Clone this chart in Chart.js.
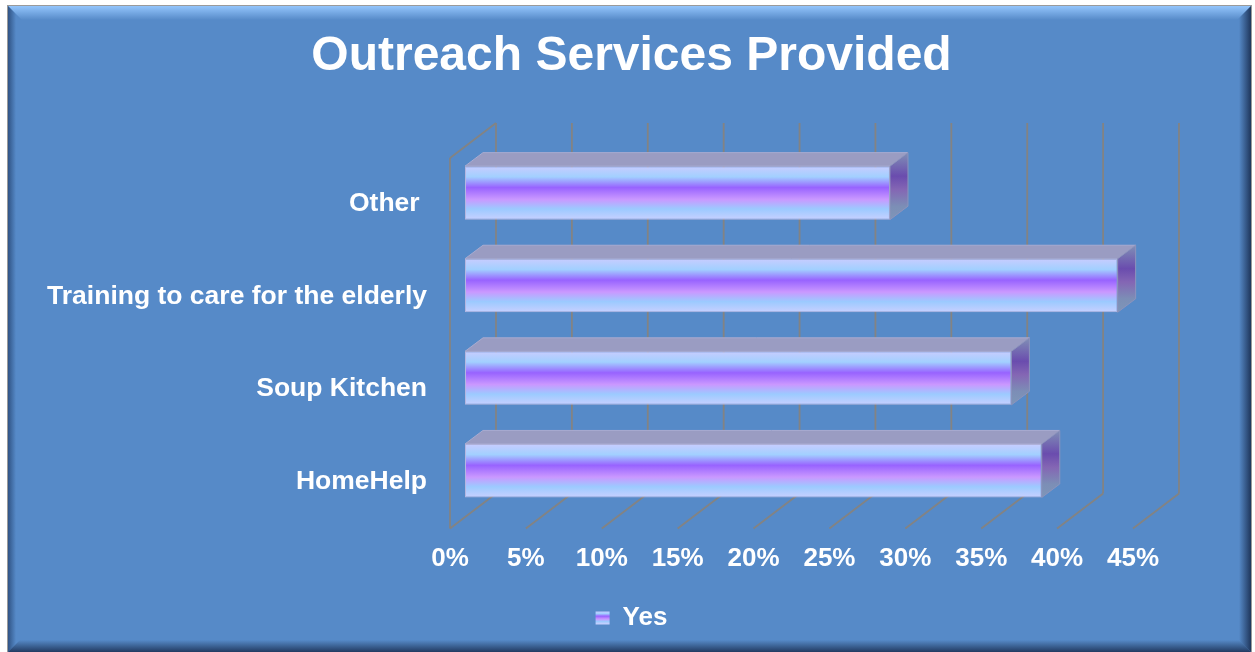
<!DOCTYPE html>
<html>
<head>
<meta charset="utf-8">
<title>Outreach Services Provided</title>
<script src="https://cdn.jsdelivr.net/npm/chart.js@4"></script>
<style>
  html, body { margin: 0; padding: 0; background: #ffffff; }
  #wrap { position: relative; width: 1255px; height: 652px; }
</style>
</head>
<body>
<div id="wrap"><canvas id="chart"></canvas></div>
<script>
// data
const categories = ['Other ', 'Training to care for the elderly', 'Soup Kitchen', 'HomeHelp'];
const yesValues = [28, 43, 36, 38];
const seriesName = 'Yes';
const tickLabels = ['0%', '5%', '10%', '15%', '20%', '25%', '30%', '35%', '40%', '45%'];
const tickStep = 5;

// 3d look
const DEPTH_X = 46, DEPTH_Y = 35;   // full depth of the plot box
const FRONT = 0.326;                // where the bar fronts sit inside that depth
const BAR_DX = 18, BAR_DY = 13.5;   // depth of each bar
const BAR_PCT = 0.578;
const FONT = "'Liberation Sans', Arial, sans-serif";

function frontGradient(ctx, y0, y1) {
  const g = ctx.createLinearGradient(0, y0, 0, y1);
  g.addColorStop(0, '#c8ccff');
  g.addColorStop(0.2, '#a2d0ff');
  g.addColorStop(0.4, '#9863ff');
  g.addColorStop(0.62, '#ca98ff');
  g.addColorStop(0.8, '#9ccaff');
  g.addColorStop(1, '#c8d0ff');
  return g;
}

function line(ctx, x1, y1, x2, y2) {
  ctx.beginPath();
  ctx.moveTo(x1, y1);
  ctx.lineTo(x2, y2);
  ctx.stroke();
}

const frame3d = {
  id: 'frame3d',
  beforeDraw(chart) {
    const ctx = chart.ctx;
    const L = 8, T = 6, R = 1251, B = 652;
    ctx.save();
    ctx.fillStyle = '#9a9a9a';
    ctx.fillRect(L - 1, T - 1, R - L + 2, B - T + 1);
    ctx.fillStyle = '#568ac8';
    ctx.fillRect(L, T, R - L, B - T);
    // bevel edges
    let g = ctx.createLinearGradient(0, T, 0, T + 14);
    g.addColorStop(0, 'rgba(150,200,255,0.95)');
    g.addColorStop(1, 'rgba(150,200,255,0)');
    ctx.fillStyle = g;
    ctx.beginPath();
    ctx.moveTo(L, T); ctx.lineTo(R, T); ctx.lineTo(R - 14, T + 14); ctx.lineTo(L + 14, T + 14);
    ctx.fill();
    g = ctx.createLinearGradient(L, 0, L + 8, 0);
    g.addColorStop(0, 'rgba(35,65,110,0.75)');
    g.addColorStop(1, 'rgba(35,65,110,0)');
    ctx.fillStyle = g;
    ctx.beginPath();
    ctx.moveTo(L, T); ctx.lineTo(L + 8, T + 8); ctx.lineTo(L + 8, B - 8); ctx.lineTo(L, B);
    ctx.fill();
    g = ctx.createLinearGradient(R, 0, R - 12, 0);
    g.addColorStop(0, 'rgba(25,45,80,0.9)');
    g.addColorStop(1, 'rgba(25,45,80,0)');
    ctx.fillStyle = g;
    ctx.beginPath();
    ctx.moveTo(R, T); ctx.lineTo(R - 12, T + 12); ctx.lineTo(R - 12, B - 12); ctx.lineTo(R, B);
    ctx.fill();
    g = ctx.createLinearGradient(0, B, 0, B - 12);
    g.addColorStop(0, 'rgba(25,45,80,0.85)');
    g.addColorStop(1, 'rgba(25,45,80,0)');
    ctx.fillStyle = g;
    ctx.beginPath();
    ctx.moveTo(L, B); ctx.lineTo(L + 12, B - 12); ctx.lineTo(R - 12, B - 12); ctx.lineTo(R, B);
    ctx.fill();
    ctx.restore();
  },
  beforeDatasetsDraw(chart) {
    const ctx = chart.ctx, xs = chart.scales.x, area = chart.chartArea;
    const fx = -DEPTH_X * FRONT, fy = DEPTH_Y * FRONT;
    const bx = DEPTH_X * (1 - FRONT), by = -DEPTH_Y * (1 - FRONT);
    ctx.save();
    ctx.strokeStyle = '#838383';
    ctx.lineWidth = 1.8;
    xs.ticks.forEach(t => {
      const p = xs.getPixelForValue(t.value);
      line(ctx, p + bx, area.top + by, p + bx, area.bottom + by);
      line(ctx, p + fx, area.bottom + fy, p + bx, area.bottom + by);
    });
    const p0 = xs.getPixelForValue(0);
    line(ctx, p0 + fx, area.bottom + fy, p0 + fx, area.top + fy);
    line(ctx, p0 + fx, area.top + fy, p0 + bx, area.top + by);
    ctx.restore();
  },
  afterDatasetsDraw(chart) {
    const ctx = chart.ctx;
    const meta = chart.getDatasetMeta(0);
    ctx.save();
    ctx.lineWidth = 1;
    meta.data.forEach(bar => {
      const {x, y, base, height} = bar.getProps(['x', 'y', 'base', 'height'], true);
      const top = y - height / 2, bottom = y + height / 2;
      // top face
      ctx.fillStyle = '#9a9cc2';
      ctx.strokeStyle = '#a9abd0';
      ctx.beginPath();
      ctx.moveTo(base, top);
      ctx.lineTo(x, top);
      ctx.lineTo(x + BAR_DX, top - BAR_DY);
      ctx.lineTo(base + BAR_DX, top - BAR_DY);
      ctx.closePath();
      ctx.fill();
      ctx.stroke();
      // end face
      const g = ctx.createLinearGradient(0, top - BAR_DY, 0, bottom);
      g.addColorStop(0, '#8090b6');
      g.addColorStop(0.35, '#6a4cae');
      g.addColorStop(0.55, '#8466b4');
      g.addColorStop(0.8, '#7c8eb6');
      g.addColorStop(1, '#7e96b8');
      ctx.fillStyle = g;
      ctx.strokeStyle = '#8d93bc';
      ctx.beginPath();
      ctx.moveTo(x, top);
      ctx.lineTo(x + BAR_DX, top - BAR_DY);
      ctx.lineTo(x + BAR_DX, bottom - BAR_DY);
      ctx.lineTo(x, bottom);
      ctx.closePath();
      ctx.fill();
      ctx.stroke();
    });
    ctx.restore();
  }
};

const ctx = document.getElementById('chart').getContext('2d');
const chart = new Chart(ctx, {
  type: 'bar',
  data: {
    labels: categories,
    datasets: [{
      label: seriesName,
      data: yesValues,
      backgroundColor: c => {
        const ys = c.chart.scales.y;
        if (!ys || !c.chart.chartArea) return '#a98cff';
        const yc = ys.getPixelForValue(c.dataIndex);
        const half = (ys.bottom - ys.top) / categories.length * BAR_PCT / 2;
        return frontGradient(c.chart.ctx, yc - half, yc + half);
      },
      borderColor: '#b4b6e0',
      borderWidth: 1,
      borderSkipped: false,
      categoryPercentage: 1,
      barPercentage: BAR_PCT
    }]
  },
  options: {
    indexAxis: 'y',
    responsive: true,
    maintainAspectRatio: false,
    animation: false,
    layout: { padding: { left: 30, right: 22, top: 0, bottom: 11 } },
    scales: {
      x: {
        min: 0,
        max: 45,
        grid: { display: false, drawTicks: false },
        border: { display: false },
        ticks: {
          stepSize: tickStep,
          color: '#ffffff',
          font: { family: FONT, size: 26, weight: 'bold' },
          padding: 26,
          labelOffset: -DEPTH_X * FRONT,
          maxRotation: 0,
          callback: (v, i) => tickLabels[i]
        },
        afterFit: s => { s.height = 78; }
      },
      y: {
        grid: { display: false, drawTicks: false },
        border: { display: false },
        ticks: {
          color: '#ffffff',
          font: { family: FONT, size: 26.5, weight: 'bold' },
          padding: 38,
          labelOffset: 11
        },
        afterFit: s => { s.width = 435; }
      },
      // empty right-hand axis, only reserves room beside the plot box
      yRight: {
        type: 'category',
        position: 'right',
        grid: { display: false, drawTicks: false },
        border: { display: false },
        ticks: { display: false },
        afterFit: s => { s.width = 85; }
      }
    },
    plugins: {
      title: {
        display: true,
        text: 'Outreach Services Provided',
        color: '#ffffff',
        font: { family: FONT, size: 48, weight: 'bold' },
        padding: { top: 28, bottom: 61 }
      },
      legend: {
        display: true,
        position: 'bottom',
        labels: {
          color: '#ffffff',
          font: { family: FONT, size: 26, weight: 'bold' },
          boxWidth: 14,
          boxHeight: 13,
          padding: 10,
          generateLabels: ch => {
            const lg = ch.legend;
            const y0 = lg && lg.top ? lg.top + 10 + 6 : 610;
            return [{
              text: seriesName,
              fillStyle: frontGradient(ch.ctx, y0, y0 + 13),
              strokeStyle: 'rgba(0,0,0,0)',
              lineWidth: 0,
              fontColor: '#ffffff',
              datasetIndex: 0
            }];
          }
        }
      },
      tooltip: { enabled: false }
    }
  },
  plugins: [frame3d]
});
</script>
</body>
</html>
